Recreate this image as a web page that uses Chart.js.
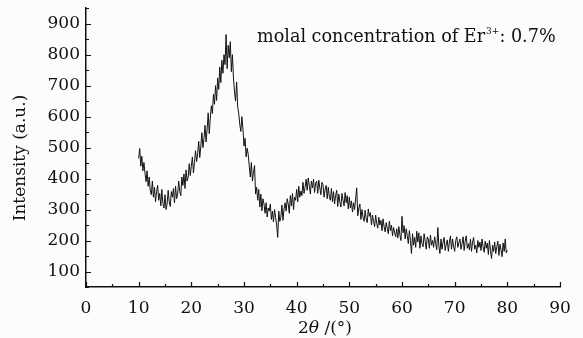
<!DOCTYPE html>
<html>
<head>
<meta charset="utf-8">
<script src="https://cdn.jsdelivr.net/npm/chart.js@4/dist/chart.umd.min.js"></script>
<style>
  html, body { margin: 0; background: #fcfcfc; }
  #wrap { width: 583px; height: 338px; }
</style>
</head>
<body>
<div id="wrap"><canvas id="c"></canvas></div>
<script>
// measurement grid: 2theta from 10 deg in 0.2 deg steps
const angleStart = 10, angleStep = 0.2
// intensity, one row per degree (10.0, 10.2 ... 10.8)
const intensity = [
  465, 497, 440, 472, 425,
  452, 418, 390, 425, 375,
  405, 362, 348, 392, 340,
  372, 325, 358, 378, 330,
  352, 312, 365, 320, 305,
  348, 300, 318, 362, 325,
  310, 358, 340, 368, 322,
  375, 335, 350, 392, 358,
  345, 405, 378, 415, 368,
  428, 392, 405, 448, 410,
  440, 470, 418, 452, 490,
  455, 480, 520, 468, 505,
  548, 500, 530, 572, 518,
  560, 612, 545, 595, 635,
  610, 672, 640, 700, 652,
  725, 688, 760, 710, 782,
  740, 800, 768, 865, 755,
  830, 790, 842, 745, 800,
  725, 680, 650, 712, 632,
  610, 575, 552, 600, 560,
  505, 530, 470, 498, 478,
  440, 405, 452, 392, 420,
  442, 350, 372, 330, 365,
  308, 350, 296, 335, 318,
  288, 322, 276, 305, 295,
  318, 268, 295, 260, 300,
  275, 250, 210, 295, 262,
  275, 315, 265, 302, 322,
  295, 335, 318, 288, 345,
  312, 352, 300, 340, 330,
  365, 325, 375, 340, 360,
  345, 388, 352, 372, 398,
  362, 402, 378, 350, 392,
  370, 398, 355, 385, 392,
  352, 395, 370, 348, 388,
  380, 340, 365, 378, 335,
  372, 342, 330, 368, 325,
  358, 318, 345, 362, 310,
  350, 325, 308, 352, 330,
  312, 355, 322, 345, 302,
  340, 305, 328, 292, 322,
  300, 335, 370, 280, 305,
  318, 268, 300, 275, 262,
  298, 270, 258, 302, 278,
  290, 250, 282, 262, 245,
  282, 255, 240, 275, 250,
  265, 232, 270, 245, 228,
  258, 240, 222, 262, 232,
  250, 215, 242, 225, 212,
  238, 208, 245, 218, 200,
  278, 225, 248, 205, 238,
  215, 190, 232, 200, 158,
  222, 185, 210, 178, 230,
  195, 225, 175, 215, 190,
  180, 222, 198, 172, 212,
  205, 175, 218, 185, 200,
  178, 212, 190, 170, 242,
  182, 158, 205, 172, 195,
  210, 168, 188, 202, 165,
  195, 215, 172, 205, 180,
  165, 200, 212, 178, 192,
  205, 172, 190, 212, 168,
  198, 215, 175, 190, 170,
  205, 165, 195, 210, 172,
  185, 160, 200, 178, 195,
  168, 205, 180, 162, 198,
  175, 192, 155, 200, 168,
  142, 185, 165, 195, 158,
  180, 198, 152, 188, 170,
  148, 192, 165, 205, 160,
  168
]
const xTickLabels = [0, 10, 20, 30, 40, 50, 60, 70, 80, 90]
const yTickLabels = [100, 200, 300, 400, 500, 600, 700, 800, 900]
const yTitle = 'Intensity (a.u.)'
const noteText = ['molal concentration of Er', '3+', ': 0.7%']

const serif = '"DejaVu Serif", "Liberation Serif", serif'
const ink = '#111'
const points = intensity.map((v, i) => ({ x: angleStart + i * angleStep, y: v }))

// axis decorations: inward ticks, titles and the note
const decor = {
  id: 'decor',
  afterDraw(chart) {
    const { ctx, chartArea: a, scales: { x, y } } = chart
    ctx.save()
    ctx.strokeStyle = ink
    ctx.lineWidth = 1.2
    ctx.beginPath()
    x.ticks.forEach(t => {
      const px = Math.round(x.getPixelForValue(t.value)) + 0.5
      const len = t.value % 10 ? 3 : 5
      ctx.moveTo(px, a.bottom); ctx.lineTo(px, a.bottom - len)
    })
    y.ticks.forEach(t => {
      const py = Math.round(y.getPixelForValue(t.value)) + 0.5
      const len = t.value % 100 ? 3 : 5
      ctx.moveTo(a.left, py); ctx.lineTo(a.left + len, py)
    })
    ctx.stroke()

    ctx.fillStyle = ink
    ctx.textBaseline = 'alphabetic'
    // y title
    ctx.save()
    ctx.font = '17px ' + serif
    ctx.textAlign = 'center'
    ctx.translate(25, 158)
    ctx.rotate(-Math.PI / 2)
    ctx.fillText(yTitle, 0, 0)
    ctx.restore()

    // x title: 2θ /(°)
    ctx.textAlign = 'left'
    const parts = [['2', '17px '], ['θ', 'italic 17px '], [' /(°)', '17px ']]
    let w = 0
    parts.forEach(p => { ctx.font = p[1] + serif; w += ctx.measureText(p[0]).width })
    let cx = 325 - w / 2
    parts.forEach(p => { ctx.font = p[1] + serif; ctx.fillText(p[0], cx, 333); cx += ctx.measureText(p[0]).width })

    // note
    let nx = 257
    ctx.font = '17.6px ' + serif
    ctx.fillText(noteText[0], nx, 42); nx += ctx.measureText(noteText[0]).width + 1
    ctx.font = '9px ' + serif
    ctx.fillText(noteText[1], nx, 34); nx += ctx.measureText(noteText[1]).width
    ctx.font = '17.6px ' + serif
    ctx.fillText(noteText[2], nx, 42)
    ctx.restore()
  }
}

new Chart(document.getElementById('c'), {
  type: 'line',
  data: {
    datasets: [{
      data: points,
      borderColor: ink,
      borderWidth: 1,
      pointRadius: 0,
      tension: 0,
      fill: false
    }]
  },
  options: {
    responsive: true,
    maintainAspectRatio: false,
    animation: false,
    devicePixelRatio: 1,
    layout: { padding: { top: 1, right: 23, left: 0, bottom: 0 } },
    plugins: { legend: { display: false }, tooltip: { enabled: false } },
    scales: {
      x: {
        type: 'linear', min: 0, max: 90,
        grid: { display: false },
        border: { display: true, color: ink, width: 1.5 },
        ticks: {
          stepSize: 5, autoSkip: false, maxRotation: 0, padding: 3,
          color: ink, font: { family: serif, size: 17 },
          callback: v => xTickLabels.includes(v) ? String(v) : ''
        },
        afterFit: s => { s.height = 51 }
      },
      y: {
        min: 50, max: 950,
        grid: { display: false },
        border: { display: true, color: ink, width: 1.5 },
        ticks: {
          stepSize: 50, autoSkip: false, padding: -2,
          color: ink, font: { family: serif, size: 17 },
          callback: v => yTickLabels.includes(v) ? String(v) : ''
        },
        afterFit: s => { s.width = 86 }
      }
    }
  },
  plugins: [decor]
})
</script>
</body>
</html>
